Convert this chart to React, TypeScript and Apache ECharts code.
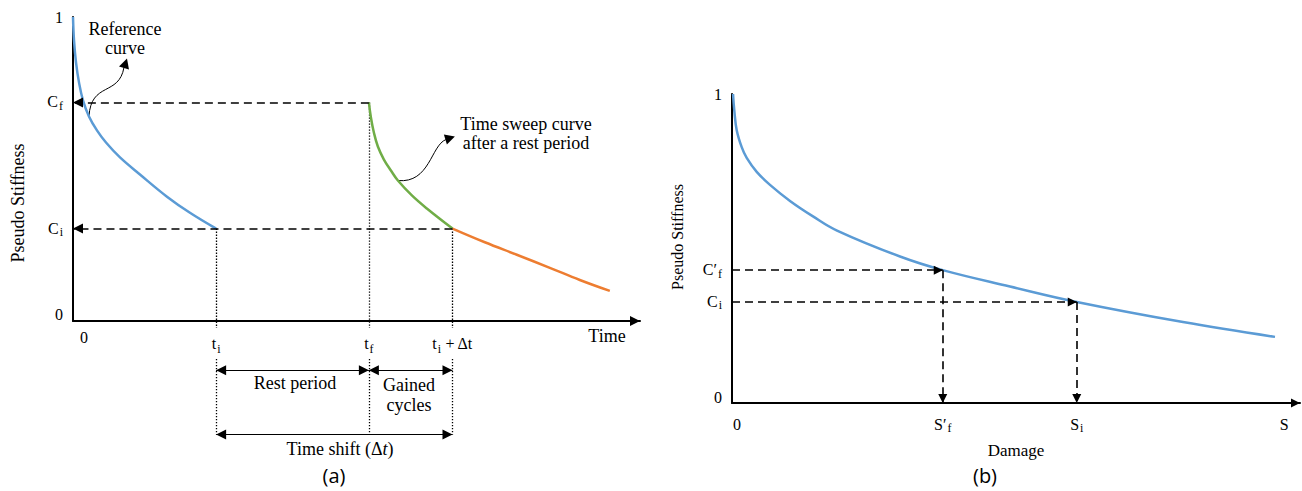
import { useEffect, useRef } from 'react';
import * as echarts from 'echarts';

const SERIF = "'Liberation Serif', 'Times New Roman', serif";
const SANS = "'Open Sans', 'Noto Sans', sans-serif";
const BLUE = '#5b9bd5';
const GREEN = '#70ad47';
const ORANGE = '#ed7d31';

// ---------- Panel (a): Pseudo stiffness vs time ----------
const referenceCurveA: [number, number][] = [
  [0, 1.0], [0.18, 0.924], [0.54, 0.851], [1.08, 0.785], [1.8, 0.726], [2.88, 0.673],
  [4.32, 0.627], [5.95, 0.587], [8.47, 0.538], [12.07, 0.482], [16.94, 0.409],
  [21.08, 0.356], [25.8, 0.304],
];
const sweepCurveA: [number, number][] = [
  [53.33, 0.719], [53.69, 0.67], [54.23, 0.62], [54.95, 0.574], [56.04, 0.531],
  [57.3, 0.495], [58.56, 0.462], [61.08, 0.413], [63.78, 0.37], [68.4, 0.304],
];
const extendedCurveA: [number, number][] = [
  [68.4, 0.304], [74.23, 0.259], [80.0, 0.218], [85.95, 0.175], [91.35, 0.135], [96.76, 0.099],
];
const tI = 25.8;
const tF = 53.33;
const tIdt = 68.4;
const cF = 0.719;
const cI = 0.304;
const xTicksA = [0, tI, tF, tIdt];
const xTickLabelsA = ['{z|0}', '{m|t}{s|i}', '{m|t}{s|f}', '{m|t}{s|i}{m| + Δt}'];
const yTicksA = [0, cI, cF, 1];
const yTickLabelsA = ['{z|0}', '{m|C}{s|i}', '{m|C}{s|f}', '{n|1}'];
// levels below the time axis (panel a y-units) for the interval annotations
const gapTopA = -0.023;
const gapBottomA = -0.125;
const restArrowY = -0.162;
const shiftArrowY = -0.373;

// ---------- Panel (b): Pseudo stiffness vs damage ----------
const damageCurveB: [number, number][] = [
  [0.18, 1.0], [0.4, 0.948], [0.83, 0.883], [1.71, 0.828], [2.59, 0.793], [4.35, 0.748],
  [6.69, 0.706], [10.21, 0.654], [14.26, 0.604], [18.49, 0.558], [29.58, 0.474],
  [37.1, 0.43], [48.94, 0.377], [60.7, 0.327], [79.4, 0.262], [95.6, 0.214],
];
const sF = 37.1;
const cFb = 0.43;
const sI = 60.7;
const cIb = 0.327;
const sEnd = 97.2;
const xTicksB = [0, sF, sI, sEnd];
const xTickLabelsB = ['{z|0}', '{m|S′}{s|f}', '{m|S}{s|i}', '{n|S}'];
const yTicksB = [0, cIb, cFb, 1];
const yTickLabelsB = ['{z|0}', '{m|C}{s|i}', '{m|C′}{s|f}', '{n|1}'];

// triangle whose tip sits at the symbol centre
const ARROW = 'path://M-10,0 M10,0 M0,10 L5,20 L-5,20 Z';

const pick = (ticks: number[], labels: string[]) => (v: number) => {
  let best = 0;
  for (let i = 1; i < ticks.length; i++) {
    if (Math.abs(ticks[i] - v) < Math.abs(ticks[best] - v)) best = i;
  }
  return labels[best];
};

const base = { fontFamily: SERIF, color: '#000' };
const richXA = {
  z: { ...base, fontSize: 16, verticalAlign: 'top', padding: [0, 0, 0, 22] },
  n: { ...base, fontSize: 16, verticalAlign: 'top' },
  m: { ...base, fontSize: 16, verticalAlign: 'top', padding: [6, 0, 0, 0] },
  s: { ...base, fontSize: 12, verticalAlign: 'top', padding: [14, 0, 0, 1] },
};
const richYA = {
  z: { ...base, fontSize: 16, verticalAlign: 'top', padding: [0, 0, 14, 0] },
  n: { ...base, fontSize: 16, verticalAlign: 'top' },
  m: { ...base, fontSize: 16, verticalAlign: 'top', padding: [1, 0, 0, 0] },
  s: { ...base, fontSize: 12, verticalAlign: 'top', padding: [7, 0, 0, 1] },
};
const richXB = {
  z: { ...base, fontSize: 16, verticalAlign: 'top', padding: [0, 0, 0, 10] },
  n: { ...base, fontSize: 16, verticalAlign: 'top' },
  m: { ...base, fontSize: 16, verticalAlign: 'top' },
  s: { ...base, fontSize: 12, verticalAlign: 'top', padding: [6, 0, 0, 1] },
};
const richYB = {
  z: { ...base, fontSize: 16, verticalAlign: 'top', padding: [0, 0, 12, 0] },
  n: { ...base, fontSize: 16, verticalAlign: 'top' },
  m: { ...base, fontSize: 16, verticalAlign: 'top', padding: [1, 0, 0, 0] },
  s: { ...base, fontSize: 12, verticalAlign: 'top', padding: [7, 0, 0, 1] },
};

const axisLineStyle = { color: '#000', width: 2 };
const dashedStyle = { color: '#000', width: 1.6, type: [8, 5], opacity: 1 };
const dottedStyle = { color: '#000', width: 1.3, type: [1.3, 1.7], opacity: 1 };
const solidStyle = { color: '#000', width: 1.2, opacity: 1 };

function buildOption() {
  const xAxisCommon = {
    type: 'value',
    splitLine: { show: false },
    axisTick: { show: false },
  };
  return {
    animation: false,
    backgroundColor: '#fff',
    grid: [
      { left: 73, top: 17, width: 567, height: 304 },
      { left: 732, top: 94, width: 568, height: 309 },
    ],
    xAxis: [
      {
        ...xAxisCommon, gridIndex: 0, min: 0, max: 102.2,
        axisLine: { show: true, onZero: false, symbol: ['none', ARROW], symbolSize: [20, 20], lineStyle: axisLineStyle },
        axisLabel: { customValues: xTicksA, formatter: pick(xTicksA, xTickLabelsA), margin: 8, rich: richXA },
      },
      {
        ...xAxisCommon, gridIndex: 1, min: 0, max: 100,
        axisLine: { show: true, onZero: false, symbol: ['none', ARROW], symbolSize: [18, 18], lineStyle: axisLineStyle },
        axisLabel: { customValues: xTicksB, formatter: pick(xTicksB, xTickLabelsB), margin: 13, rich: richXB },
      },
    ],
    yAxis: [
      {
        type: 'value', gridIndex: 0, min: 0, max: 1,
        splitLine: { show: false }, axisTick: { show: false },
        axisLine: { show: true, onZero: false, lineStyle: axisLineStyle },
        axisLabel: { customValues: yTicksA, formatter: pick(yTicksA, yTickLabelsA), margin: 10, rich: richYA },
      },
      {
        type: 'value', gridIndex: 1, min: 0, max: 1,
        splitLine: { show: false }, axisTick: { show: false },
        axisLine: { show: true, onZero: false, lineStyle: axisLineStyle },
        axisLabel: { customValues: yTicksB, formatter: pick(yTicksB, yTickLabelsB), margin: 10, rich: richYB },
      },
    ],
    series: [
      {
        type: 'line', name: 'Reference curve', xAxisIndex: 0, yAxisIndex: 0,
        data: referenceCurveA, smooth: 0.4, symbol: 'none',
        lineStyle: { color: BLUE, width: 2.5 }, z: 3,
      },
      {
        type: 'line', name: 'Time sweep curve after a rest period', xAxisIndex: 0, yAxisIndex: 0,
        data: sweepCurveA, smooth: 0.4, symbol: 'none',
        lineStyle: { color: GREEN, width: 2.5 }, z: 3,
      },
      {
        type: 'line', name: 'Shifted curve', xAxisIndex: 0, yAxisIndex: 0,
        data: extendedCurveA, smooth: 0.4, symbol: 'none',
        lineStyle: { color: ORANGE, width: 2.5 }, z: 3,
      },
      {
        type: 'lines', coordinateSystem: 'cartesian2d', xAxisIndex: 0, yAxisIndex: 0, clip: false,
        symbol: ['none', ARROW], symbolSize: 20, lineStyle: dashedStyle, z: 4,
        data: [
          { coords: [[tF, cF], [0, cF]] },
          { coords: [[tIdt, cI], [0, cI]] },
        ],
      },
      {
        type: 'lines', coordinateSystem: 'cartesian2d', xAxisIndex: 0, yAxisIndex: 0, clip: false,
        symbol: 'none', lineStyle: dottedStyle, z: 2,
        data: [
          { coords: [[tI, cI], [tI, gapTopA]] },
          { coords: [[tF, cF], [tF, gapTopA]] },
          { coords: [[tIdt, cI], [tIdt, gapTopA]] },
          { coords: [[tI, gapBottomA], [tI, shiftArrowY]] },
          { coords: [[tF, gapBottomA], [tF, shiftArrowY]] },
          { coords: [[tIdt, gapBottomA], [tIdt, shiftArrowY]] },
        ],
      },
      {
        type: 'lines', coordinateSystem: 'cartesian2d', xAxisIndex: 0, yAxisIndex: 0, clip: false,
        symbol: [ARROW, ARROW], symbolSize: 20, lineStyle: solidStyle, z: 4,
        data: [
          { coords: [[tI, restArrowY], [tF, restArrowY]] },
          { coords: [[tF, restArrowY], [tIdt, restArrowY]] },
          { coords: [[tI, shiftArrowY], [tIdt, shiftArrowY]] },
        ],
      },
      {
        type: 'line', name: 'Damage curve', xAxisIndex: 1, yAxisIndex: 1,
        data: damageCurveB, smooth: 0.4, symbol: 'none',
        lineStyle: { color: BLUE, width: 2.5 }, z: 3,
      },
      {
        type: 'lines', coordinateSystem: 'cartesian2d', xAxisIndex: 1, yAxisIndex: 1, clip: false,
        symbol: ['none', ARROW], symbolSize: 18, lineStyle: dashedStyle, z: 4,
        data: [
          { coords: [[0, cFb], [sF, cFb]] },
          { coords: [[sF, cFb], [sF, 0]] },
          { coords: [[0, cIb], [sI, cIb]] },
          { coords: [[sI, cIb], [sI, 0]] },
        ],
      },
    ],
  };
}

function txt(text: string, x: number, y: number, size: number, family: string = SERIF, extra: any = {}) {
  const { style: extraStyle, ...rest } = extra;
  return {
    type: 'text', x, y, silent: true, ...rest,
    style: {
      text, fill: '#000', font: `${size}px ${family}`,
      align: 'center', verticalAlign: 'middle', lineHeight: size + 2,
      ...(extraStyle || {}),
    },
  };
}

function buildGraphics(a: number[], b: number[]) {
  const [ax, ay] = a;
  const [bx, by] = b;
  return [
    txt('Pseudo Stiffness', 18, 203, 18, SERIF, { rotation: Math.PI / 2 }),
    txt('Pseudo Stiffness', 677, 237, 16, SERIF, { rotation: Math.PI / 2 }),
    txt('Reference\ncurve', 125, 38, 18, SERIF, { style: { lineHeight: 19 } }),
    txt('Time sweep curve\nafter a rest period', 526, 133, 18, SERIF, { style: { lineHeight: 19 } }),
    txt('Time', 607, 336, 18),
    txt('Rest period', 295, 383, 18),
    txt('Gained\ncycles', 409, 395, 18, SERIF, { style: { lineHeight: 20 } }),
    txt('Time shift (Δ{i|t})', 340, 449, 18, SERIF, {
      style: { rich: { i: { font: `italic 18px ${SERIF}`, fill: '#000' } } },
    }),
    txt('Damage', 1016, 450, 17),
    txt('(a)', 334, 475, 20, SANS),
    txt('(b)', 985, 475, 20, SANS),
    // curly pointer to the reference curve
    {
      type: 'bezierCurve', silent: true,
      shape: { x1: ax, y1: ay, cpx1: ax + 2, cpy1: ay - 35, cpx2: ax + 30, cpy2: ay - 20, x2: ax + 35, y2: ay - 49 },
      style: { stroke: '#000', lineWidth: 1, fill: null },
    },
    {
      type: 'polygon', silent: true,
      shape: { points: [[ax + 38, ay - 58], [ax + 30, ay - 50], [ax + 40, ay - 47]] },
      style: { fill: '#000' },
    },
    // curly pointer to the time sweep curve
    {
      type: 'bezierCurve', silent: true,
      shape: { x1: bx, y1: by, cpx1: bx + 32, cpy1: by + 3, cpx2: bx + 33, cpy2: by - 35, x2: bx + 48, y2: by - 41 },
      style: { stroke: '#000', lineWidth: 1, fill: null },
    },
    {
      type: 'polygon', silent: true,
      shape: { points: [[bx + 57, by - 44], [bx + 46, by - 46], [bx + 49, by - 36]] },
      style: { fill: '#000' },
    },
  ];
}

export default function App() {
  const ref = useRef<HTMLDivElement>(null);
  useEffect(() => {
    const chart = echarts.init(ref.current!, undefined, { renderer: 'svg' });
    chart.setOption(buildOption() as any);
    const a = chart.convertToPixel({ gridIndex: 0 }, referenceCurveA[5]) as number[];
    const b = chart.convertToPixel({ gridIndex: 0 }, sweepCurveA[6]) as number[];
    chart.setOption({ graphic: buildGraphics(a, b) } as any);
    return () => chart.dispose();
  }, []);
  return (
    <div
      ref={ref}
      style={{ position: 'absolute', left: 0, top: 0, width: 1302, height: 491, background: '#fff' }}
    />
  );
}
